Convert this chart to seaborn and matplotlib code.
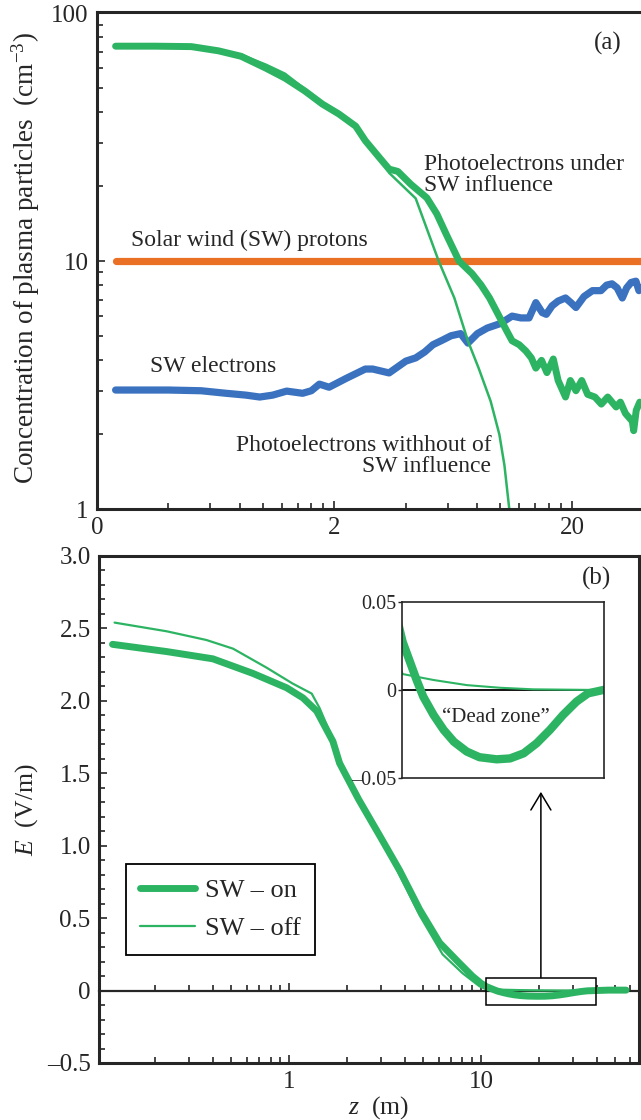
import numpy as np
import pandas as pd
import seaborn as sns
import matplotlib
matplotlib.use('Agg')
import matplotlib.pyplot as plt
from matplotlib.ticker import FixedLocator, FixedFormatter, LogLocator, MultipleLocator, NullFormatter, NullLocator
from matplotlib.patches import Rectangle

sns.set_style('ticks')
plt.rcParams['font.family'] = ['Liberation Serif', 'DejaVu Serif']
plt.rcParams['mathtext.fontset'] = 'custom'
plt.rcParams['mathtext.rm'] = 'Liberation Serif'
plt.rcParams['mathtext.it'] = 'Liberation Serif:italic'

GREEN = '#2db463'
ORANGE = '#ea7026'
BLUE = '#3a72bf'

#Panel (a) - concentration of plasma particles vs height
pe_sw_x = [0.24, 0.35, 0.5, 0.65, 0.81, 1.03, 1.24, 1.5, 1.78, 2.09, 2.46, 2.7, 3.1, 3.4, 3.7,
           4.2, 4.9, 5.4, 5.9, 6.7, 7.6, 8.3, 9.0, 9.87, 10.6, 11.2, 12.0, 12.8, 13.5, 14.1,
           14.9, 15.7, 16.7, 17.5, 18.8, 19.7, 20.8, 22.0, 23.3, 25.0, 26.6, 28.3, 30.7, 32.0,
           33.6, 35.9, 36.4, 37.3, 38.6]
pe_sw_y = [73.6, 73.6, 73.3, 70.5, 67.0, 60.0, 54.7, 48.6, 43.0, 39.2, 35.0, 30.6, 26.1, 23.5, 23.0,
           20.4, 18.0, 15.5, 12.9, 10.0, 8.9, 8.0, 7.1, 6.0, 5.26, 4.77, 4.6, 4.34, 4.07, 3.7,
           3.98, 3.55, 4.03, 3.3, 2.83, 3.3, 3.0, 3.3, 2.9, 2.83, 2.65, 2.83, 2.58, 2.7,
           2.43, 2.26, 2.07, 2.5, 2.7]

pe_nosw_x = [0.24, 0.35, 0.5, 0.65, 0.81, 1.03, 1.24, 1.5, 1.78, 2.09, 2.46, 2.7, 3.1, 3.4, 4.4,
             5.5, 6.4, 7.3, 8.1, 9.1, 9.9, 10.4, 10.9]
pe_nosw_y = [73.6, 73.6, 73.3, 71.0, 68.0, 62.0, 57.0, 49.5, 43.0, 39.0, 35.0, 30.6, 26.1, 22.7, 17.9,
             10.0, 7.1, 4.76, 3.7, 2.72, 2.0, 1.5, 1.0]

proton_x = [0.24, 39.0]
proton_y = [10.0, 10.0]

sw_el_x = [0.24, 0.4, 0.55, 0.70, 0.85, 0.97, 1.1, 1.26, 1.47, 1.6, 1.73, 1.9, 2.25, 2.7, 2.9,
           3.4, 4.0, 4.4, 4.8, 5.2, 5.7, 6.2, 6.8, 7.3, 8.0, 8.8, 10.0, 11.2, 12.2, 13.2,
           14.1, 15.0, 15.6, 16.5, 17.5, 18.8, 19.8, 20.8, 22.5, 24.4, 26.5, 28.0, 29.5, 31.0,
           32.6, 34.0, 35.5, 37.2, 38.3, 39.5]
sw_el_y = [3.02, 3.02, 3.0, 2.93, 2.88, 2.83, 2.88, 2.99, 2.93, 3.0, 3.19, 3.1, 3.37, 3.67, 3.67,
           3.54, 3.95, 4.07, 4.3, 4.6, 4.8, 5.0, 5.1, 4.67, 5.1, 5.37, 5.6, 6.0, 5.9, 5.9,
           6.8, 6.2, 6.1, 6.6, 6.9, 7.1, 6.8, 6.5, 7.2, 7.6, 7.6, 8.0, 8.1, 7.8,
           7.1, 7.8, 8.2, 8.3, 7.6, 7.8]

top_xticks = [0.2, 2, 20]
top_xlabels = ['0', '2', '20']
top_yticks = [1, 10, 100]
top_ylabels = ['1', '10', '100']

#Panel (b) - electric field vs height
e_on_x = [0.12, 0.23, 0.40, 0.645, 0.97, 1.18, 1.39, 1.69, 1.83, 2.3, 2.96, 3.76, 4.78, 6.08, 7.7,
          9.0, 10.0, 10.65, 11.17, 11.67, 12.19, 13.04, 13.93, 14.89, 16.2, 17.6, 19.69, 21.5,
          23.5, 25.58, 27.9, 30.4, 33.2, 35.8, 39.5, 46.0, 57.0]
e_on_y = [2.39, 2.34, 2.29, 2.19, 2.09, 2.02, 1.93, 1.72, 1.57, 1.32, 1.07, 0.83, 0.56, 0.33, 0.19,
          0.10, 0.05, 0.0274, 0.0161, 0.0057, -0.0038, -0.0142, -0.0227, -0.0294, -0.035, -0.0382,
          -0.0394, -0.0389, -0.036, -0.0303, -0.0227, -0.0142, -0.0066, -0.0019, 0.0, 0.003, 0.003]

e_off_x = [0.123, 0.23, 0.37, 0.51, 0.76, 1.04, 1.31, 1.44, 1.62, 1.83, 2.3, 2.96, 3.76, 4.78, 6.3,
           8.0, 9.8, 10.65, 13.04, 16.2, 20.1, 25.0, 39.5, 57.0]
e_off_y = [2.54, 2.48, 2.42, 2.36, 2.23, 2.12, 2.05, 1.95, 1.79, 1.6, 1.33, 1.06, 0.8, 0.52, 0.25,
           0.12, 0.03, 0.0091, 0.0057, 0.0028, 0.0013, 0.0004, 0.0, 0.0]

bot_yticks = [-0.5, 0, 0.5, 1.0, 1.5, 2.0, 2.5, 3.0]
bot_ylabels = ['\u20130.5', '0', '0.5', '1.0', '1.5', '2.0', '2.5', '3.0']
bot_xticks = [1, 10]
bot_xlabels = ['1', '10']

#Zoomed "dead zone" window
zoom_x = [10.6, 39.7]
zoom_y = [-0.1, 0.09]
inset_yticks = [-0.05, 0, 0.05]
inset_ylabels = ['\u20130.05', '0', '0.05']
log_subs = [2, 3, 4, 5, 6, 7, 8, 9]

fig = plt.figure(figsize=(6.41, 11.2), dpi=100)

# ---------- (a) ----------
ax1 = fig.add_axes([0.151, 0.5455, 0.8487, 0.4437])
ax1.set(xscale='log', yscale='log')
sns.lineplot(x=proton_x, y=proton_y, ax=ax1, color=ORANGE, linewidth=5.2, solid_capstyle='round')
sns.lineplot(x=sw_el_x, y=sw_el_y, ax=ax1, color=BLUE, linewidth=5.2, solid_capstyle='round',
             solid_joinstyle='round')
sns.lineplot(x=pe_sw_x, y=pe_sw_y, ax=ax1, color=GREEN, linewidth=5.0, solid_capstyle='round',
             solid_joinstyle='round')
sns.lineplot(x=pe_nosw_x, y=pe_nosw_y, ax=ax1, color=GREEN, linewidth=1.8)
ax1.set_xlim(0.2, 39)
ax1.set_ylim(1, 101)

ax1.xaxis.set_major_locator(FixedLocator(top_xticks))
ax1.xaxis.set_major_formatter(FixedFormatter(top_xlabels))
ax1.xaxis.set_minor_locator(LogLocator(base=10, subs=[1.0, 1.2, 1.4, 1.6, 1.8, 2, 4, 6, 8]))
ax1.xaxis.set_minor_formatter(NullFormatter())
ax1.yaxis.set_major_locator(FixedLocator(top_yticks))
ax1.yaxis.set_major_formatter(FixedFormatter(top_ylabels))
ax1.yaxis.set_minor_locator(LogLocator(base=10, subs=log_subs))
ax1.yaxis.set_minor_formatter(NullFormatter())
ax1.tick_params(which='both', direction='in', top=False, right=False, labelsize=18, width=1.2)
ax1.tick_params(which='major', length=6, pad=6)
ax1.tick_params(which='minor', length=4)
ax1.spines['right'].set_visible(False)
for s in ['left', 'bottom', 'top']:
    ax1.spines[s].set_linewidth(2.2)
ax1.set_ylabel('Concentration of plasma particles  (cm$^{-3}$)', fontsize=19.5)
ax1.yaxis.set_label_coords(-0.1, 0.505)
ax1.set_xlabel('')

ax1.text(0.94, 0.937, '(a)', transform=ax1.transAxes, fontsize=18, ha='center', va='center')
ax1.text(0.602, 0.672, 'Photoelectrons under\nSW influence', transform=ax1.transAxes,
         fontsize=17, ha='left', va='center', linespacing=1.0)
ax1.text(0.062, 0.541, 'Solar wind (SW) protons', transform=ax1.transAxes,
         fontsize=17, ha='left', va='center')
ax1.text(0.097, 0.286, 'SW electrons', transform=ax1.transAxes,
         fontsize=17, ha='left', va='center')
ax1.text(0.725, 0.107, 'Photoelectrons withhout of\nSW influence', transform=ax1.transAxes,
         fontsize=17, ha='right', va='center', multialignment='right', linespacing=1.0)

# ---------- (b) ----------
ax2 = fig.add_axes([0.1544, 0.0509, 0.8424, 0.4527])
ax2.set_xscale('log')
sns.lineplot(x=e_on_x, y=e_on_y, ax=ax2, color=GREEN, linewidth=5.0, solid_capstyle='round',
             solid_joinstyle='round', label='SW \u2013 on')
sns.lineplot(x=e_off_x, y=e_off_y, ax=ax2, color=GREEN, linewidth=1.6, label='SW \u2013 off')
ylo, yhi = -0.5, 3.0
ax2.set_xlim(0.102, 66.5)
ax2.set_ylim(ylo, yhi)

ax2.xaxis.set_major_locator(FixedLocator(bot_xticks))
ax2.xaxis.set_major_formatter(FixedFormatter(bot_xlabels))
ax2.xaxis.set_minor_locator(LogLocator(base=10, subs=log_subs))
ax2.xaxis.set_minor_formatter(NullFormatter())
ax2.yaxis.set_major_locator(FixedLocator(bot_yticks))
ax2.yaxis.set_major_formatter(FixedFormatter(bot_ylabels))
ax2.yaxis.set_minor_locator(MultipleLocator(0.1))
ax2.tick_params(which='both', direction='in', top=False, right=False, labelsize=18, width=1.2)
ax2.tick_params(which='major', length=6, pad=6)
ax2.tick_params(which='minor', length=4)
for s in ax2.spines.values():
    s.set_linewidth(2.2)
ax2.set_ylabel('$E$  (V/m)', fontsize=18.5)
ax2.yaxis.set_label_coords(-0.109, 0.5)
ax2.set_xlabel('$z$  (m)', fontsize=18.5)
ax2.xaxis.set_label_coords(0.517, -0.062)

# zero line with its own ticks
sec = ax2.secondary_xaxis((0 - ylo) / (yhi - ylo))
sec.xaxis.set_major_locator(FixedLocator(bot_xticks))
sec.xaxis.set_major_formatter(NullFormatter())
sec.xaxis.set_minor_locator(LogLocator(base=10, subs=log_subs))
sec.xaxis.set_minor_formatter(NullFormatter())
sec.tick_params(which='both', direction='in', width=1.2, labelbottom=False, labeltop=False)
sec.tick_params(which='major', length=6)
sec.tick_params(which='minor', length=4)
for s in sec.spines.values():
    s.set_linewidth(1.6)

ax2.add_patch(Rectangle((zoom_x[0], zoom_y[0]), zoom_x[1] - zoom_x[0], zoom_y[1] - zoom_y[0],
                        fill=False, edgecolor='black', linewidth=1.1, zorder=5))
ax2.annotate('', xy=(20.5, 0.293), xycoords=('data', 'figure fraction'),
             xytext=(20.5, zoom_y[1]), textcoords='data',
             arrowprops=dict(arrowstyle='->,head_length=0.6,head_width=0.36', color='black',
                             lw=1.1, mutation_scale=20, shrinkA=0, shrinkB=0))
ax2.text(0.922, 0.956, '(b)', transform=ax2.transAxes, fontsize=18, ha='center', va='center')

ax2.legend(loc='upper left', bbox_to_anchor=(0.05, 0.392), borderaxespad=0, fontsize=19,
           handlelength=2.05, handletextpad=0.4, borderpad=0.55, labelspacing=0.55,
           frameon=True, fancybox=False, framealpha=1, edgecolor='black')
ax2.get_legend().get_frame().set_linewidth(1.3)

# ---------- inset ----------
axin = fig.add_axes([0.627, 0.3054, 0.315, 0.157])
axin.set_xscale('log')
axin.axhline(0, color='black', linewidth=1.3)
sns.lineplot(x=e_on_x, y=e_on_y, ax=axin, color=GREEN, linewidth=6.0, solid_capstyle='round',
             solid_joinstyle='round', legend=False)
sns.lineplot(x=e_off_x, y=e_off_y, ax=axin, color=GREEN, linewidth=1.5, legend=False)
axin.set_xlim(zoom_x)
axin.set_ylim(-0.05, 0.05)
axin.xaxis.set_major_locator(NullLocator())
axin.xaxis.set_minor_locator(NullLocator())
axin.yaxis.set_major_locator(FixedLocator(inset_yticks))
axin.yaxis.set_major_formatter(FixedFormatter(inset_ylabels))
axin.tick_params(axis='y', direction='out', length=3, width=1.0, pad=1, labelsize=14.5)
for s in axin.spines.values():
    s.set_linewidth(1.2)
axin.set_xlabel('')
axin.text(0.466, 0.345, '\u201cDead zone\u201d', transform=axin.transAxes, fontsize=15,
          ha='center', va='center')

fig.savefig('out.png', dpi=100)
